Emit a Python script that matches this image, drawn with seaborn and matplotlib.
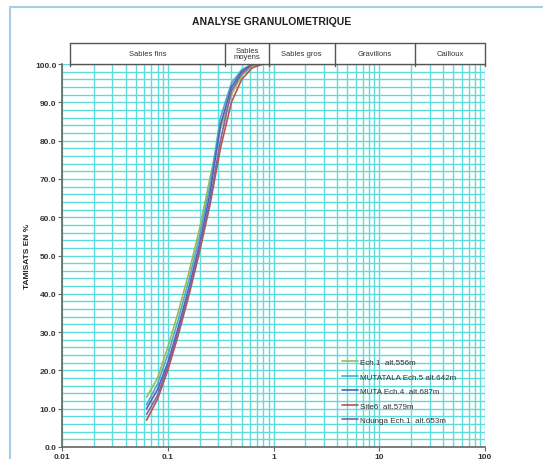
import pandas as pd
import numpy as np
import matplotlib
matplotlib.use('Agg')
import matplotlib.pyplot as plt
import matplotlib.ticker as mticker
import matplotlib.transforms as mtrans
import seaborn as sns

sns.set_style('white')
plt.rcParams['font.family'] = ['Liberation Sans', 'DejaVu Sans']

# sieve openings (mm)
sieves = [0.063, 0.08, 0.1, 0.125, 0.16, 0.2, 0.25, 0.315, 0.4, 0.5, 0.63, 0.8, 1.0]

# passing percentages per sample
ech1 = [13.0, 18.0, 26.0, 35.0, 46.0, 57.0, 70.0, 83.0, 92.0, 97.0, 99.5, 100.0, 100.0]
mutatala = [11.0, 16.5, 24.0, 33.0, 44.0, 55.0, 68.0, 86.0, 95.0, 98.5, 100.0, 100.0, 100.0]
muta = [10.0, 15.0, 22.0, 31.0, 42.0, 53.0, 66.0, 84.0, 94.0, 98.0, 100.0, 100.0, 100.0]
site6 = [7.0, 12.5, 20.0, 29.0, 40.0, 51.0, 63.0, 78.0, 90.0, 96.0, 99.0, 100.0, 100.0]
ndunga = [8.5, 13.5, 21.0, 30.0, 41.0, 52.0, 64.0, 80.0, 93.0, 97.5, 99.8, 100.0, 100.0]

names = ['Ech.1  alt.556m', 'MUTATALA Ech.5 alt.642m', 'MUTA Ech.4  alt.687m',
         'Site6  alt.579m', 'Ndunga Ech.1  alt.653m']
colors = ['#9BBB59', '#4BACC6', '#4F5FBD', '#C0504D', '#8064A2']

# class boundaries of the header band
bounds = [0.012, 0.35, 0.9, 3.8, 22.0, 100.0]
classes = ['Sables fins', 'Sables\nmoyens', 'Sables gros', 'Gravillons', 'Cailloux']

rows = []
for name, vals in zip(names, [ech1, mutatala, muta, site6, ndunga]):
    for s, v in zip(sieves, vals):
        rows.append({'sieve': s, 'pct': v, 'sample': name})
df = pd.DataFrame(rows)

fig = plt.figure(figsize=(5.43, 4.60), dpi=100)
ax = fig.add_axes([62 / 543, 12 / 460, 423 / 543, 383 / 460])

grid_c = '#5cdcdc'
ax.set_xscale('log')
ax.set_xlim(0.01, 100)
ax.set_ylim(0, 100)
ax.xaxis.set_major_locator(mticker.LogLocator(base=10))
ax.xaxis.set_minor_locator(mticker.LogLocator(base=10, subs=np.arange(2, 10)))
ax.xaxis.set_minor_formatter(mticker.NullFormatter())
ax.xaxis.set_major_formatter(mticker.FuncFormatter(lambda v, p: '%g' % v))
ax.yaxis.set_major_locator(mticker.MultipleLocator(10))
ax.yaxis.set_minor_locator(mticker.MultipleLocator(2))
ax.yaxis.set_major_formatter(mticker.FormatStrFormatter('%.1f'))
ax.grid(True, which='both', color=grid_c, linewidth=1.0)
ax.set_axisbelow(True)

sns.lineplot(data=df, x='sieve', y='pct', hue='sample', hue_order=names,
             palette=colors, linewidth=1.2, ax=ax, legend=True)

for sp in ['top', 'right']:
    ax.spines[sp].set_visible(False)
for sp in ['left', 'bottom']:
    ax.spines[sp].set_color('#666666')
    ax.spines[sp].set_linewidth(1.2)

ax.tick_params(axis='both', which='major', labelsize=6, length=3, color='#666666',
               direction='out', left=True, bottom=True, pad=1)
ax.tick_params(axis='both', which='minor', length=0)
for lab in ax.get_xticklabels() + ax.get_yticklabels():
    lab.set_fontweight('bold')
    lab.set_color('#333333')

ax.set_xlabel('')
ax.set_ylabel('TAMISATS EN %', fontsize=6, fontweight='bold', labelpad=3)

# header band with the soil classes
trans = mtrans.blended_transform_factory(ax.transData, ax.transAxes)
top = 1 + 21 / 383
ax.plot([bounds[0], bounds[-1]], [top, top], color='#555555', lw=1.0,
        transform=trans, clip_on=False)
ax.plot([bounds[0], bounds[-1]], [1, 1], color='#555555', lw=1.0,
        transform=trans, clip_on=False)
for b in bounds:
    ax.plot([b, b], [0.995, top], color='#555555', lw=1.0, transform=trans, clip_on=False)
for lo, hi, txt in zip(bounds[:-1], bounds[1:], classes):
    ax.text(np.sqrt(lo * hi), (1 + top) / 2, txt, transform=trans, ha='center',
            va='center', fontsize=5.5, color='#333333', linespacing=0.9)

fig.text(0.5, 1 - 22 / 460, 'ANALYSE GRANULOMETRIQUE', ha='center', va='center',
         fontsize=7.5, fontweight='bold', color='#222222')

leg = ax.legend(loc='lower right', bbox_to_anchor=(0.945, 0.045), frameon=False,
                fontsize=5.8, handlelength=2.0, handletextpad=0.2,
                labelspacing=0.85, borderaxespad=0.3)
for t in leg.get_texts():
    t.set_color('#333333')

# window frame
fig.add_artist(plt.Line2D([10 / 543, 10 / 543], [0, 1 - 8 / 460], color='#a8cbe6',
                          lw=1.5, transform=fig.transFigure))
fig.add_artist(plt.Line2D([10 / 543, 1], [1 - 8 / 460, 1 - 8 / 460], color='#a8cbe6',
                          lw=1.5, transform=fig.transFigure))

fig.savefig('out.png', dpi=100)
